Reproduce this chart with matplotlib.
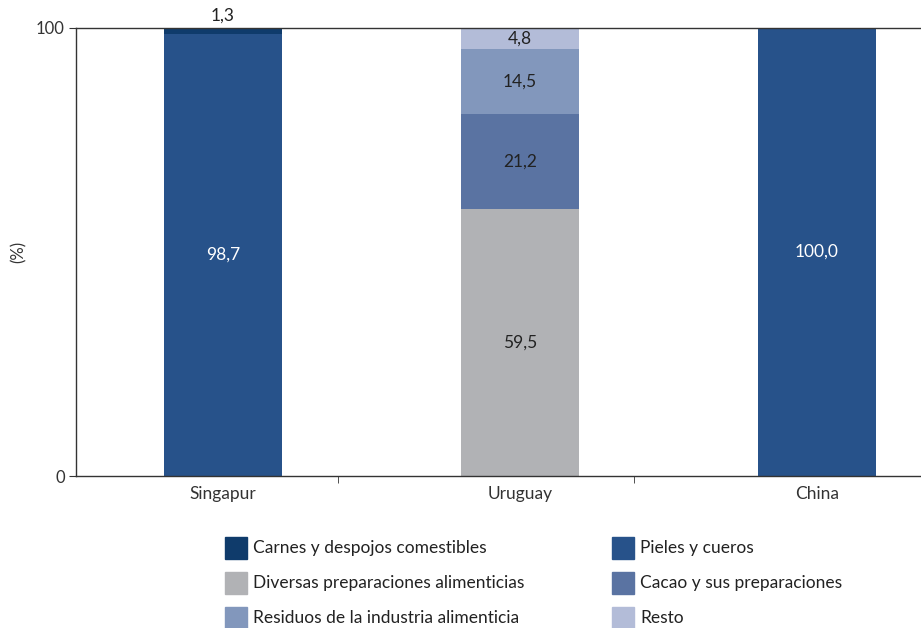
import matplotlib.pyplot as plt
from matplotlib.patches import Rectangle
import numpy as np

plt.rcParams['font.family'] = ['Lato', 'DejaVu Sans']

# Datos (%)
paises = ['Singapur', 'Uruguay', 'China']
pieles = [98.7, 0, 100.0]
diversas = [0, 59.5, 0]
cacao = [0, 21.2, 0]
residuos = [0, 14.5, 0]
resto = [0, 4.8, 0]
carnes = [1.3, 0, 0]

series = [
    ('Pieles y cueros', pieles, '#27528A', 'white'),
    ('Diversas preparaciones alimenticias', diversas, '#B1B2B5', '#222222'),
    ('Cacao y sus preparaciones', cacao, '#5A73A2', '#222222'),
    ('Residuos de la industria alimenticia', residuos, '#8297BC', '#222222'),
    ('Resto', resto, '#B3BCD8', '#222222'),
    ('Carnes y despojos comestibles', carnes, '#0F3B6B', '#222222'),
]

fig = plt.figure(figsize=(9.21, 6.28), dpi=100)
ax = fig.add_axes([0.0825, 0.242, 0.9175, 0.7136])

x = np.arange(len(paises))
bottom = np.zeros(len(paises))
for nombre, vals, color, tcol in series:
    vals = np.array(vals, dtype=float)
    ax.bar(x, vals, width=0.4, bottom=bottom, color=color, linewidth=0)
    for i, v in enumerate(vals):
        if v == 0:
            continue
        txt = f'{v:.1f}'.replace('.', ',')
        if v < 3:
            # etiqueta pequeña por encima de la barra
            ax.annotate(txt, (x[i], bottom[i] + v), xytext=(0, 3),
                        textcoords='offset points', ha='center', va='bottom',
                        fontsize=12.5, color=tcol, annotation_clip=False)
        else:
            ax.text(x[i], bottom[i] + v / 2, txt, ha='center', va='center',
                    fontsize=12.5, color=tcol)
    bottom += vals

ax.set_xlim(-0.495, 2.35)
ax.set_ylim(0, 100)
ax.set_yticks([0, 100])
ax.set_yticklabels(['0', '100'], fontsize=12, color='#333333')
ax.set_ylabel('(%)', fontsize=12, color='#333333')
ax.yaxis.set_label_coords(-0.058, 0.5)

ax.set_xticks(x)
ax.set_xticklabels(paises, fontsize=12.5, color='#333333')
ax.tick_params(axis='x', length=0, pad=7)
ax.set_xticks([0.387, 1.384], minor=True)
ax.tick_params(axis='x', which='minor', length=5, color='#333333', direction='out')
ax.tick_params(axis='y', length=5, color='#333333', pad=3)

for s in ['left', 'bottom', 'top']:
    ax.spines[s].set_color('#333333')
    ax.spines[s].set_linewidth(1.0)
ax.spines['right'].set_visible(False)

# Leyenda manual (2 columnas)
orden = ['Carnes y despojos comestibles', 'Pieles y cueros',
         'Diversas preparaciones alimenticias', 'Cacao y sus preparaciones',
         'Residuos de la industria alimenticia', 'Resto']
colores = {s[0]: s[2] for s in series}
W, H = 921.0, 628.0
col_x = [225, 612]
row_y = [548, 583, 618]
for k, nombre in enumerate(orden):
    cx = col_x[k % 2]
    cy = row_y[k // 2]
    fig.patches.append(Rectangle((cx / W, 1 - (cy + 11) / H), 22 / W, 22 / H,
                                 transform=fig.transFigure, color=colores[nombre]))
    fig.text((cx + 28) / W, 1 - cy / H, nombre, ha='left', va='center',
             fontsize=12.5, color='#222222')

fig.savefig('out.png', dpi=100)
